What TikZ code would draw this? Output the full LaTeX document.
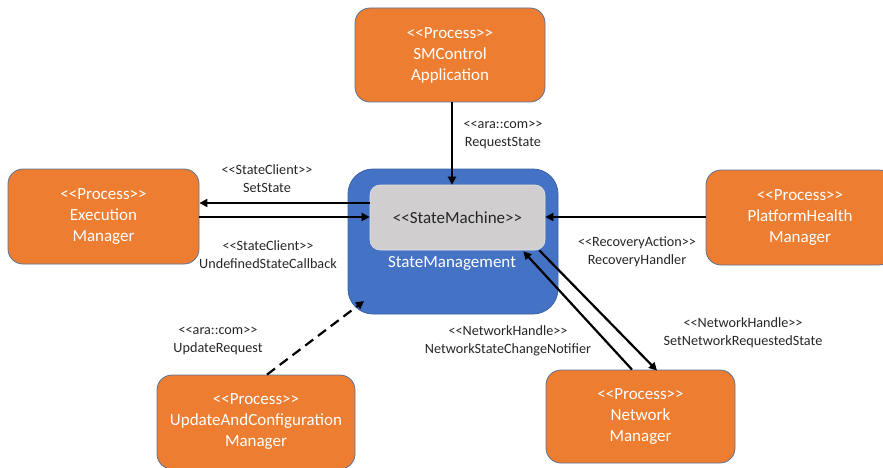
\documentclass[tikz,border=0pt]{standalone}
\usepackage{fontspec}
\setmainfont{Carlito}
\usetikzlibrary{arrows.meta,calc}
\definecolor{orng}{HTML}{ED7D31}
\definecolor{blu}{HTML}{4472C4}
\definecolor{gry}{HTML}{D0CECE}
\definecolor{edgec}{HTML}{5B7399}
\definecolor{txt}{HTML}{262626}
\newcommand\sto{<\kern0pt<}
\newcommand\stc{>\kern0pt>}
\begin{document}
\begin{tikzpicture}[x=1pt,y=-1pt,
 proc/.style={draw=edgec, line width=0.8pt, fill=orng, rounded corners=15pt, text=white, align=center, font=\fontsize{17}{21}\selectfont, inner sep=0pt},
 lbl/.style={text=txt, align=center, font=\fontsize{14.2}{18}\selectfont, inner sep=0pt},
 arr/.style={line width=2.2pt, -{Triangle[length=8pt,width=8pt]}},
]
\useasboundingbox (0,0) rectangle (883,468);

\node[proc, minimum width=190pt, minimum height=94pt] (smc) at (450,55) {\sto Process\stc\\SMControl\\Application};
\node[proc, minimum width=191pt, minimum height=95pt] (em) at (103.5,216.5) {\sto Process\stc\\Execution\\Manager};
\node[proc, minimum width=188pt, minimum height=95pt] (phm) at (800,217.5) {\sto Process\stc\\PlatformHealth\\Manager};
\node[proc, minimum width=198pt, minimum height=94pt] (ucm) at (256,422) {\sto Process\stc\\UpdateAndConfiguration\\Manager};
\node[proc, minimum width=189pt, minimum height=93pt] (nm) at (640.5,416.5) {\sto Process\stc\\Network\\Manager};

\node[draw=blu!85!black, line width=0.8pt, fill=blu, rounded corners=25pt, minimum width=210pt, minimum height=145pt, inner sep=0pt] (sm) at (453,241.5) {};
\node[fill=gry, draw=gry!60!white, line width=0.6pt, rounded corners=10pt, minimum width=175pt, minimum height=65pt, inner sep=0pt, text=txt, font=\fontsize{17}{21}\selectfont] (gray) at (457.5,217.5) {\sto StateMachine\stc};
\node[text=white, inner sep=0pt, font=\fontsize{17}{21}\selectfont] (smlbl) at (452,263) {StateManagement};

\draw[arr] (smc.south -| 452,0) -- (gray.north -| 452,0);
\draw[arr] (gray.west |- 0,203) -- (em.east |- 0,203);
\draw[arr] (em.east |- 0,217) -- (gray.west |- 0,217);
\draw[arr] (phm.west |- 0,217) -- (gray.east |- 0,217);
\coordinate (dtip) at (364,301);
\draw[arr, dash pattern=on 10pt off 6pt] ($(ucm.north)+(11,0)$) -- (dtip);
\draw[arr] ($(nm.north)+(-8.5,0)$) -- ($(gray.south east)+(-22,1)$);
\draw[arr] ($(gray.south east)+(-6,0)$) -- ($(nm.north)+(16.5,1)$);

\node[lbl] (l1) at (503,135) {\sto ara::com\stc\\RequestState};
\node[lbl] (l2) at (267,179) {\sto StateClient\stc\\SetState};
\node[lbl] (l3) at (268,255) {\sto StateClient\stc\\UndefinedStateCallback};
\node[lbl] (l4) at (637,252) {\sto RecoveryAction\stc\\RecoveryHandler};
\node[lbl] (l5) at (218,341) {\sto ara::com\stc\\UpdateRequest};
\node[lbl] (l6) at (508,341) {\sto NetworkHandle\stc\\NetworkStateChangeNotifier};
\node[lbl] (l7) at (743,333) {\sto NetworkHandle\stc\\SetNetworkRequestedState};
\end{tikzpicture}
\end{document}
